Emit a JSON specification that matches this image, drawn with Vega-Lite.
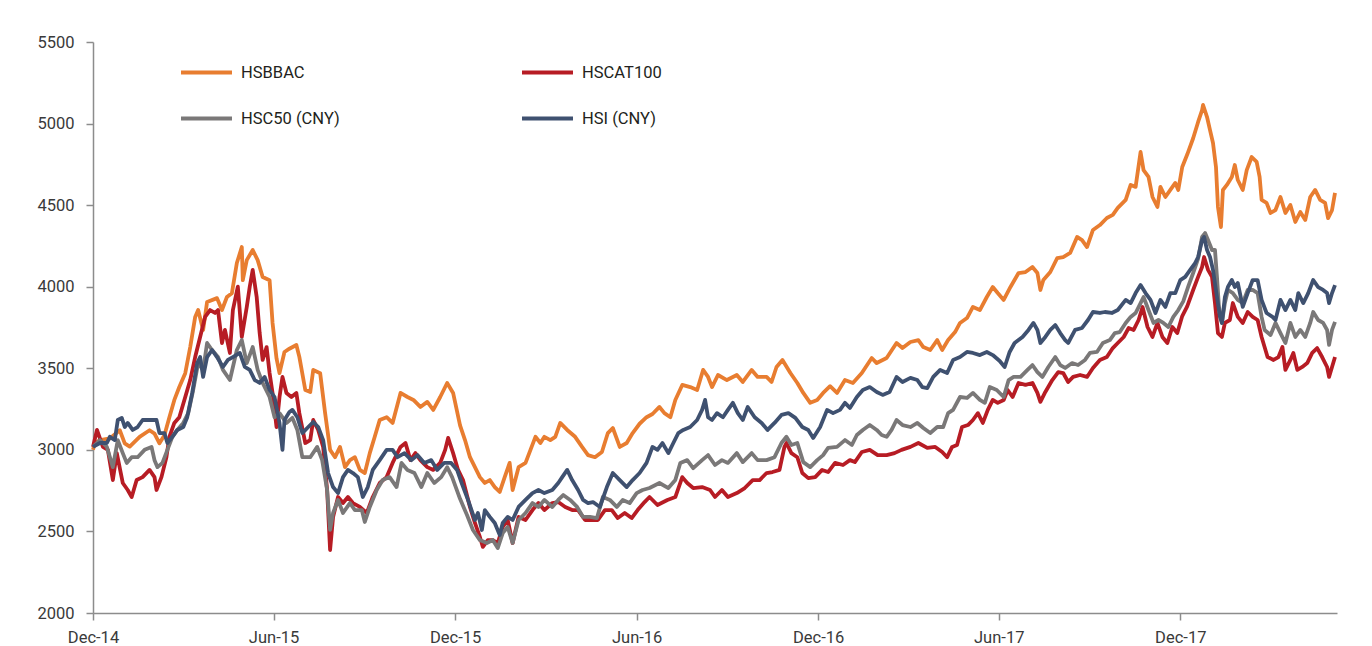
{
"$schema":"https://vega.github.io/schema/vega-lite/v6.json",
"width":1244,"height":571,
"autosize":{"type":"none"},
"padding":{"left":93,"top":42,"right":35,"bottom":33},
"background":"#ffffff",
"config":{"view":{"stroke":null},"font":"Roboto",
"axis":{"domainColor":"#8c8c8c","tickColor":"#8c8c8c","domainWidth":1.5,"tickWidth":1.5,"tickSize":7,"labelFontSize":16.5,"labelColor":"#3a3a3a","labelFont":"Roboto","grid":false,"title":null},
"legend":{"orient":"none","legendX":86,"legendY":3,"columns":2,"direction":"horizontal","symbolType":"stroke","symbolSize":2600,"symbolStrokeWidth":4,"labelFontSize":16.5,"labelColor":"#231f20","labelFont":"Roboto","labelOffset":7,"columnPadding":174,"rowPadding":10,"padding":0,"title":null,"labelLimit":300}},
"datasets":{
"a":[{"date":"2014-12-01","value":3000},{"date":"2014-12-03","value":3043},{"date":"2014-12-08","value":3060},{"date":"2014-12-18","value":3070},{"date":"2014-12-28","value":3120},{"date":"2015-01-02","value":3040},{"date":"2015-01-07","value":3020},{"date":"2015-01-17","value":3080},{"date":"2015-01-27","value":3120},{"date":"2015-02-01","value":3100},{"date":"2015-02-06","value":3040},{"date":"2015-02-11","value":3090},{"date":"2015-02-16","value":3200},{"date":"2015-02-21","value":3306},{"date":"2015-02-26","value":3385},{"date":"2015-03-04","value":3470},{"date":"2015-03-09","value":3630},{"date":"2015-03-14","value":3815},{"date":"2015-03-17","value":3857},{"date":"2015-03-22","value":3735},{"date":"2015-03-26","value":3906},{"date":"2015-04-05","value":3930},{"date":"2015-04-10","value":3857},{"date":"2015-04-15","value":3937},{"date":"2015-04-20","value":3960},{"date":"2015-04-25","value":4145},{"date":"2015-04-30","value":4243},{"date":"2015-05-01","value":4040},{"date":"2015-05-05","value":4163},{"date":"2015-05-11","value":4225},{"date":"2015-05-16","value":4163},{"date":"2015-05-21","value":4060},{"date":"2015-05-28","value":4040},{"date":"2015-05-31","value":3778},{"date":"2015-06-04","value":3560},{"date":"2015-06-07","value":3470},{"date":"2015-06-12","value":3600},{"date":"2015-06-17","value":3620},{"date":"2015-06-24","value":3643},{"date":"2015-06-27","value":3570},{"date":"2015-07-03","value":3367},{"date":"2015-07-08","value":3355},{"date":"2015-07-11","value":3490},{"date":"2015-07-18","value":3470},{"date":"2015-07-23","value":3225},{"date":"2015-07-28","value":3000},{"date":"2015-08-02","value":2955},{"date":"2015-08-07","value":3018},{"date":"2015-08-12","value":2894},{"date":"2015-08-17","value":2937},{"date":"2015-08-22","value":2955},{"date":"2015-08-27","value":2877},{"date":"2015-09-01","value":2858},{"date":"2015-09-06","value":2980},{"date":"2015-09-11","value":3080},{"date":"2015-09-16","value":3183},{"date":"2015-09-23","value":3200},{"date":"2015-09-29","value":3165},{"date":"2015-10-07","value":3349},{"date":"2015-10-14","value":3324},{"date":"2015-10-20","value":3306},{"date":"2015-10-27","value":3263},{"date":"2015-11-03","value":3294},{"date":"2015-11-09","value":3245},{"date":"2015-11-16","value":3324},{"date":"2015-11-23","value":3410},{"date":"2015-11-29","value":3349},{"date":"2015-12-06","value":3150},{"date":"2015-12-11","value":3060},{"date":"2015-12-16","value":2955},{"date":"2015-12-21","value":2894},{"date":"2015-12-26","value":2833},{"date":"2015-12-31","value":2797},{"date":"2016-01-05","value":2815},{"date":"2016-01-10","value":2772},{"date":"2016-01-15","value":2742},{"date":"2016-01-20","value":2833},{"date":"2016-01-25","value":2920},{"date":"2016-01-28","value":2754},{"date":"2016-02-03","value":2894},{"date":"2016-02-10","value":2920},{"date":"2016-02-15","value":3000},{"date":"2016-02-20","value":3080},{"date":"2016-02-25","value":3042},{"date":"2016-02-29","value":3080},{"date":"2016-03-06","value":3060},{"date":"2016-03-11","value":3080},{"date":"2016-03-16","value":3165},{"date":"2016-03-23","value":3122},{"date":"2016-03-31","value":3080},{"date":"2016-04-07","value":3018},{"date":"2016-04-13","value":2968},{"date":"2016-04-20","value":2955},{"date":"2016-04-27","value":2987},{"date":"2016-05-03","value":3103},{"date":"2016-05-08","value":3134},{"date":"2016-05-15","value":3018},{"date":"2016-05-22","value":3042},{"date":"2016-05-28","value":3103},{"date":"2016-06-04","value":3160},{"date":"2016-06-11","value":3200},{"date":"2016-06-17","value":3220},{"date":"2016-06-24","value":3263},{"date":"2016-06-29","value":3225},{"date":"2016-07-05","value":3200},{"date":"2016-07-10","value":3306},{"date":"2016-07-17","value":3398},{"date":"2016-07-25","value":3385},{"date":"2016-08-01","value":3367},{"date":"2016-08-07","value":3490},{"date":"2016-08-12","value":3447},{"date":"2016-08-16","value":3385},{"date":"2016-08-22","value":3459},{"date":"2016-08-31","value":3428},{"date":"2016-09-10","value":3459},{"date":"2016-09-16","value":3416},{"date":"2016-09-25","value":3490},{"date":"2016-10-01","value":3447},{"date":"2016-10-10","value":3447},{"date":"2016-10-15","value":3416},{"date":"2016-10-20","value":3508},{"date":"2016-10-26","value":3551},{"date":"2016-11-03","value":3471},{"date":"2016-11-10","value":3410},{"date":"2016-11-16","value":3349},{"date":"2016-11-23","value":3288},{"date":"2016-11-30","value":3306},{"date":"2016-12-06","value":3349},{"date":"2016-12-13","value":3390},{"date":"2016-12-20","value":3349},{"date":"2016-12-28","value":3428},{"date":"2017-01-05","value":3410},{"date":"2017-01-14","value":3471},{"date":"2017-01-24","value":3563},{"date":"2017-01-29","value":3532},{"date":"2017-02-08","value":3563},{"date":"2017-02-18","value":3655},{"date":"2017-02-24","value":3624},{"date":"2017-03-04","value":3661},{"date":"2017-03-12","value":3673},{"date":"2017-03-17","value":3630},{"date":"2017-03-24","value":3612},{"date":"2017-03-31","value":3673},{"date":"2017-04-05","value":3612},{"date":"2017-04-11","value":3673},{"date":"2017-04-18","value":3722},{"date":"2017-04-23","value":3778},{"date":"2017-04-30","value":3808},{"date":"2017-05-06","value":3876},{"date":"2017-05-13","value":3857},{"date":"2017-05-20","value":3937},{"date":"2017-05-26","value":3998},{"date":"2017-05-31","value":3961},{"date":"2017-06-06","value":3919},{"date":"2017-06-13","value":4000},{"date":"2017-06-21","value":4084},{"date":"2017-06-28","value":4090},{"date":"2017-07-05","value":4121},{"date":"2017-07-10","value":4084},{"date":"2017-07-13","value":3980},{"date":"2017-07-16","value":4041},{"date":"2017-07-23","value":4090},{"date":"2017-07-30","value":4176},{"date":"2017-08-05","value":4182},{"date":"2017-08-12","value":4207},{"date":"2017-08-19","value":4305},{"date":"2017-08-24","value":4286},{"date":"2017-08-29","value":4243},{"date":"2017-09-04","value":4348},{"date":"2017-09-11","value":4378},{"date":"2017-09-18","value":4421},{"date":"2017-09-24","value":4440},{"date":"2017-09-29","value":4483},{"date":"2017-10-07","value":4532},{"date":"2017-10-12","value":4624},{"date":"2017-10-17","value":4612},{"date":"2017-10-22","value":4826},{"date":"2017-10-25","value":4715},{"date":"2017-10-30","value":4673},{"date":"2017-11-03","value":4550},{"date":"2017-11-08","value":4489},{"date":"2017-11-11","value":4612},{"date":"2017-11-16","value":4550},{"date":"2017-11-21","value":4593},{"date":"2017-11-26","value":4636},{"date":"2017-11-29","value":4593},{"date":"2017-12-03","value":4734},{"date":"2017-12-08","value":4810},{"date":"2017-12-14","value":4910},{"date":"2017-12-19","value":5010},{"date":"2017-12-23","value":5083},{"date":"2017-12-24","value":5114},{"date":"2017-12-28","value":5040},{"date":"2017-12-31","value":4960},{"date":"2018-01-03","value":4881},{"date":"2018-01-06","value":4734},{"date":"2018-01-08","value":4489},{"date":"2018-01-11","value":4366},{"date":"2018-01-13","value":4593},{"date":"2018-01-17","value":4624},{"date":"2018-01-22","value":4673},{"date":"2018-01-25","value":4746},{"date":"2018-01-28","value":4654},{"date":"2018-02-02","value":4593},{"date":"2018-02-06","value":4715},{"date":"2018-02-11","value":4795},{"date":"2018-02-16","value":4765},{"date":"2018-02-19","value":4673},{"date":"2018-02-21","value":4532},{"date":"2018-02-26","value":4514},{"date":"2018-03-02","value":4452},{"date":"2018-03-07","value":4470},{"date":"2018-03-12","value":4550},{"date":"2018-03-17","value":4452},{"date":"2018-03-22","value":4501},{"date":"2018-03-27","value":4397},{"date":"2018-04-01","value":4458},{"date":"2018-04-06","value":4409},{"date":"2018-04-11","value":4550},{"date":"2018-04-16","value":4593},{"date":"2018-04-21","value":4532},{"date":"2018-04-26","value":4514},{"date":"2018-04-29","value":4421},{"date":"2018-05-03","value":4470},{"date":"2018-05-06","value":4575}],
"b":[{"date":"2014-12-01","value":3018},{"date":"2014-12-05","value":3122},{"date":"2014-12-11","value":3018},{"date":"2014-12-16","value":3000},{"date":"2014-12-21","value":2815},{"date":"2014-12-25","value":2980},{"date":"2014-12-31","value":2797},{"date":"2015-01-05","value":2754},{"date":"2015-01-09","value":2711},{"date":"2015-01-14","value":2815},{"date":"2015-01-20","value":2833},{"date":"2015-01-27","value":2877},{"date":"2015-02-01","value":2833},{"date":"2015-02-03","value":2754},{"date":"2015-02-08","value":2833},{"date":"2015-02-13","value":2955},{"date":"2015-02-16","value":3080},{"date":"2015-02-21","value":3165},{"date":"2015-02-26","value":3200},{"date":"2015-03-04","value":3324},{"date":"2015-03-09","value":3428},{"date":"2015-03-14","value":3569},{"date":"2015-03-19","value":3692},{"date":"2015-03-24","value":3815},{"date":"2015-03-29","value":3857},{"date":"2015-04-03","value":3839},{"date":"2015-04-06","value":3857},{"date":"2015-04-10","value":3655},{"date":"2015-04-13","value":3735},{"date":"2015-04-18","value":3594},{"date":"2015-04-21","value":3857},{"date":"2015-04-26","value":4000},{"date":"2015-04-30","value":3692},{"date":"2015-05-05","value":3876},{"date":"2015-05-08","value":4000},{"date":"2015-05-11","value":4103},{"date":"2015-05-15","value":3937},{"date":"2015-05-18","value":3716},{"date":"2015-05-21","value":3551},{"date":"2015-05-25","value":3630},{"date":"2015-05-28","value":3471},{"date":"2015-05-31","value":3349},{"date":"2015-06-04","value":3140},{"date":"2015-06-07","value":3324},{"date":"2015-06-10","value":3447},{"date":"2015-06-14","value":3349},{"date":"2015-06-19","value":3324},{"date":"2015-06-24","value":3349},{"date":"2015-06-27","value":3225},{"date":"2015-07-03","value":3042},{"date":"2015-07-08","value":3060},{"date":"2015-07-11","value":3183},{"date":"2015-07-16","value":3122},{"date":"2015-07-21","value":3018},{"date":"2015-07-25","value":2754},{"date":"2015-07-28","value":2386},{"date":"2015-07-31","value":2588},{"date":"2015-08-05","value":2711},{"date":"2015-08-10","value":2674},{"date":"2015-08-15","value":2711},{"date":"2015-08-20","value":2674},{"date":"2015-08-27","value":2650},{"date":"2015-09-03","value":2613},{"date":"2015-09-09","value":2711},{"date":"2015-09-16","value":2797},{"date":"2015-09-23","value":2833},{"date":"2015-09-29","value":2920},{"date":"2015-10-07","value":3018},{"date":"2015-10-12","value":3042},{"date":"2015-10-17","value":2937},{"date":"2015-10-22","value":2980},{"date":"2015-10-27","value":2937},{"date":"2015-11-03","value":2894},{"date":"2015-11-09","value":2877},{"date":"2015-11-16","value":2920},{"date":"2015-11-21","value":3000},{"date":"2015-11-24","value":3073},{"date":"2015-11-29","value":2980},{"date":"2015-12-04","value":2877},{"date":"2015-12-09","value":2815},{"date":"2015-12-16","value":2650},{"date":"2015-12-21","value":2552},{"date":"2015-12-26","value":2466},{"date":"2015-12-29","value":2405},{"date":"2016-01-03","value":2447},{"date":"2016-01-08","value":2447},{"date":"2016-01-13","value":2429},{"date":"2016-01-18","value":2527},{"date":"2016-01-23","value":2570},{"date":"2016-01-28","value":2429},{"date":"2016-02-03","value":2589},{"date":"2016-02-10","value":2570},{"date":"2016-02-17","value":2631},{"date":"2016-02-23","value":2674},{"date":"2016-02-29","value":2631},{"date":"2016-03-08","value":2674},{"date":"2016-03-14","value":2680},{"date":"2016-03-21","value":2650},{"date":"2016-03-28","value":2631},{"date":"2016-04-03","value":2631},{"date":"2016-04-10","value":2570},{"date":"2016-04-17","value":2570},{"date":"2016-04-23","value":2570},{"date":"2016-04-30","value":2631},{"date":"2016-05-07","value":2631},{"date":"2016-05-13","value":2582},{"date":"2016-05-20","value":2613},{"date":"2016-05-27","value":2582},{"date":"2016-06-02","value":2631},{"date":"2016-06-09","value":2680},{"date":"2016-06-14","value":2711},{"date":"2016-06-22","value":2662},{"date":"2016-07-02","value":2693},{"date":"2016-07-10","value":2711},{"date":"2016-07-17","value":2833},{"date":"2016-07-22","value":2797},{"date":"2016-07-28","value":2766},{"date":"2016-08-06","value":2772},{"date":"2016-08-14","value":2754},{"date":"2016-08-19","value":2711},{"date":"2016-08-26","value":2754},{"date":"2016-09-01","value":2711},{"date":"2016-09-10","value":2735},{"date":"2016-09-18","value":2766},{"date":"2016-09-26","value":2815},{"date":"2016-10-03","value":2815},{"date":"2016-10-10","value":2858},{"date":"2016-10-16","value":2864},{"date":"2016-10-23","value":2877},{"date":"2016-10-28","value":3018},{"date":"2016-10-30","value":3042},{"date":"2016-11-04","value":2980},{"date":"2016-11-10","value":2955},{"date":"2016-11-15","value":2858},{"date":"2016-11-21","value":2827},{"date":"2016-11-28","value":2833},{"date":"2016-12-05","value":2877},{"date":"2016-12-11","value":2864},{"date":"2016-12-18","value":2920},{"date":"2016-12-26","value":2907},{"date":"2017-01-02","value":2937},{"date":"2017-01-07","value":2925},{"date":"2017-01-14","value":2987},{"date":"2017-01-22","value":3000},{"date":"2017-01-30","value":2968},{"date":"2017-02-08","value":2968},{"date":"2017-02-16","value":2980},{"date":"2017-02-23","value":3000},{"date":"2017-03-04","value":3018},{"date":"2017-03-12","value":3042},{"date":"2017-03-21","value":3012},{"date":"2017-03-29","value":3018},{"date":"2017-04-05","value":2987},{"date":"2017-04-10","value":2955},{"date":"2017-04-15","value":3018},{"date":"2017-04-20","value":3030},{"date":"2017-04-25","value":3140},{"date":"2017-05-01","value":3152},{"date":"2017-05-06","value":3183},{"date":"2017-05-11","value":3225},{"date":"2017-05-16","value":3165},{"date":"2017-05-21","value":3245},{"date":"2017-05-26","value":3306},{"date":"2017-05-31","value":3288},{"date":"2017-06-06","value":3306},{"date":"2017-06-10","value":3367},{"date":"2017-06-15","value":3324},{"date":"2017-06-21","value":3410},{"date":"2017-06-28","value":3398},{"date":"2017-07-05","value":3410},{"date":"2017-07-10","value":3349},{"date":"2017-07-13","value":3294},{"date":"2017-07-18","value":3355},{"date":"2017-07-25","value":3428},{"date":"2017-07-31","value":3477},{"date":"2017-08-05","value":3471},{"date":"2017-08-10","value":3416},{"date":"2017-08-15","value":3447},{"date":"2017-08-22","value":3459},{"date":"2017-08-29","value":3447},{"date":"2017-09-04","value":3502},{"date":"2017-09-11","value":3551},{"date":"2017-09-18","value":3569},{"date":"2017-09-24","value":3624},{"date":"2017-09-29","value":3655},{"date":"2017-10-05","value":3692},{"date":"2017-10-10","value":3747},{"date":"2017-10-15","value":3735},{"date":"2017-10-20","value":3796},{"date":"2017-10-24","value":3876},{"date":"2017-10-29","value":3753},{"date":"2017-11-03","value":3692},{"date":"2017-11-08","value":3778},{"date":"2017-11-13","value":3692},{"date":"2017-11-18","value":3655},{"date":"2017-11-23","value":3753},{"date":"2017-11-28","value":3716},{"date":"2017-12-03","value":3820},{"date":"2017-12-08","value":3880},{"date":"2017-12-14","value":3980},{"date":"2017-12-19","value":4060},{"date":"2017-12-23","value":4121},{"date":"2017-12-25","value":4182},{"date":"2017-12-29","value":4103},{"date":"2018-01-02","value":4060},{"date":"2018-01-05","value":3900},{"date":"2018-01-08","value":3716},{"date":"2018-01-12","value":3692},{"date":"2018-01-15","value":3778},{"date":"2018-01-20","value":3796},{"date":"2018-01-23","value":3900},{"date":"2018-01-28","value":3815},{"date":"2018-02-02","value":3778},{"date":"2018-02-07","value":3845},{"date":"2018-02-12","value":3815},{"date":"2018-02-17","value":3796},{"date":"2018-02-21","value":3692},{"date":"2018-02-24","value":3630},{"date":"2018-02-27","value":3569},{"date":"2018-03-05","value":3551},{"date":"2018-03-10","value":3569},{"date":"2018-03-14","value":3630},{"date":"2018-03-17","value":3490},{"date":"2018-03-22","value":3551},{"date":"2018-03-25","value":3594},{"date":"2018-03-29","value":3490},{"date":"2018-04-03","value":3508},{"date":"2018-04-08","value":3532},{"date":"2018-04-13","value":3594},{"date":"2018-04-18","value":3624},{"date":"2018-04-23","value":3569},{"date":"2018-04-28","value":3508},{"date":"2018-04-30","value":3447},{"date":"2018-05-03","value":3508},{"date":"2018-05-06","value":3569}],
"c":[{"date":"2014-12-01","value":3018},{"date":"2014-12-08","value":3060},{"date":"2014-12-15","value":3018},{"date":"2014-12-21","value":2894},{"date":"2014-12-26","value":3060},{"date":"2014-12-31","value":2980},{"date":"2015-01-04","value":2920},{"date":"2015-01-09","value":2955},{"date":"2015-01-15","value":2955},{"date":"2015-01-22","value":3000},{"date":"2015-01-29","value":3018},{"date":"2015-02-01","value":2937},{"date":"2015-02-04","value":2894},{"date":"2015-02-09","value":2920},{"date":"2015-02-14","value":3000},{"date":"2015-02-19","value":3080},{"date":"2015-02-24","value":3122},{"date":"2015-03-02","value":3165},{"date":"2015-03-07","value":3225},{"date":"2015-03-12","value":3367},{"date":"2015-03-17","value":3532},{"date":"2015-03-22","value":3490},{"date":"2015-03-26","value":3655},{"date":"2015-03-31","value":3612},{"date":"2015-04-06","value":3569},{"date":"2015-04-11","value":3490},{"date":"2015-04-18","value":3428},{"date":"2015-04-25","value":3612},{"date":"2015-04-30","value":3673},{"date":"2015-05-05","value":3532},{"date":"2015-05-11","value":3630},{"date":"2015-05-16","value":3490},{"date":"2015-05-21","value":3410},{"date":"2015-05-28","value":3324},{"date":"2015-06-02","value":3200},{"date":"2015-06-07","value":3225},{"date":"2015-06-14","value":3165},{"date":"2015-06-20","value":3196},{"date":"2015-06-25","value":3122},{"date":"2015-06-30","value":2955},{"date":"2015-07-08","value":2955},{"date":"2015-07-15","value":3018},{"date":"2015-07-20","value":2937},{"date":"2015-07-25","value":2754},{"date":"2015-07-28","value":2509},{"date":"2015-07-31","value":2613},{"date":"2015-08-05","value":2693},{"date":"2015-08-10","value":2613},{"date":"2015-08-17","value":2674},{"date":"2015-08-22","value":2631},{"date":"2015-08-29","value":2631},{"date":"2015-09-01","value":2558},{"date":"2015-09-06","value":2650},{"date":"2015-09-13","value":2754},{"date":"2015-09-19","value":2815},{"date":"2015-09-26","value":2833},{"date":"2015-10-03","value":2772},{"date":"2015-10-08","value":2920},{"date":"2015-10-14","value":2877},{"date":"2015-10-21","value":2858},{"date":"2015-10-28","value":2772},{"date":"2015-11-03","value":2858},{"date":"2015-11-10","value":2797},{"date":"2015-11-17","value":2833},{"date":"2015-11-23","value":2894},{"date":"2015-11-28","value":2833},{"date":"2015-12-06","value":2700},{"date":"2015-12-13","value":2600},{"date":"2015-12-19","value":2509},{"date":"2015-12-26","value":2447},{"date":"2016-01-02","value":2429},{"date":"2016-01-08","value":2447},{"date":"2016-01-13","value":2398},{"date":"2016-01-18","value":2490},{"date":"2016-01-23","value":2527},{"date":"2016-01-28","value":2429},{"date":"2016-02-03","value":2570},{"date":"2016-02-10","value":2613},{"date":"2016-02-17","value":2674},{"date":"2016-02-23","value":2650},{"date":"2016-02-29","value":2693},{"date":"2016-03-08","value":2650},{"date":"2016-03-14","value":2693},{"date":"2016-03-19","value":2723},{"date":"2016-03-26","value":2693},{"date":"2016-04-02","value":2650},{"date":"2016-04-08","value":2589},{"date":"2016-04-15","value":2589},{"date":"2016-04-22","value":2582},{"date":"2016-04-28","value":2711},{"date":"2016-05-05","value":2693},{"date":"2016-05-12","value":2650},{"date":"2016-05-18","value":2693},{"date":"2016-05-25","value":2674},{"date":"2016-06-01","value":2735},{"date":"2016-06-07","value":2754},{"date":"2016-06-14","value":2766},{"date":"2016-06-24","value":2797},{"date":"2016-07-03","value":2766},{"date":"2016-07-10","value":2815},{"date":"2016-07-15","value":2920},{"date":"2016-07-22","value":2937},{"date":"2016-07-28","value":2888},{"date":"2016-08-06","value":2937},{"date":"2016-08-12","value":2968},{"date":"2016-08-19","value":2907},{"date":"2016-08-26","value":2937},{"date":"2016-09-01","value":2920},{"date":"2016-09-10","value":2980},{"date":"2016-09-16","value":2925},{"date":"2016-09-25","value":2980},{"date":"2016-10-01","value":2937},{"date":"2016-10-10","value":2937},{"date":"2016-10-18","value":2955},{"date":"2016-10-25","value":3042},{"date":"2016-10-30","value":3080},{"date":"2016-11-04","value":3030},{"date":"2016-11-10","value":3042},{"date":"2016-11-16","value":2925},{"date":"2016-11-23","value":2894},{"date":"2016-11-30","value":2937},{"date":"2016-12-06","value":2968},{"date":"2016-12-11","value":3012},{"date":"2016-12-20","value":3018},{"date":"2016-12-28","value":3060},{"date":"2017-01-04","value":3030},{"date":"2017-01-09","value":3091},{"date":"2017-01-15","value":3122},{"date":"2017-01-22","value":3152},{"date":"2017-01-29","value":3122},{"date":"2017-02-03","value":3091},{"date":"2017-02-08","value":3080},{"date":"2017-02-13","value":3122},{"date":"2017-02-18","value":3183},{"date":"2017-02-24","value":3152},{"date":"2017-03-04","value":3140},{"date":"2017-03-11","value":3165},{"date":"2017-03-17","value":3134},{"date":"2017-03-24","value":3103},{"date":"2017-03-31","value":3140},{"date":"2017-04-06","value":3140},{"date":"2017-04-11","value":3225},{"date":"2017-04-16","value":3245},{"date":"2017-04-23","value":3324},{"date":"2017-04-30","value":3318},{"date":"2017-05-06","value":3349},{"date":"2017-05-13","value":3306},{"date":"2017-05-18","value":3288},{"date":"2017-05-23","value":3385},{"date":"2017-05-30","value":3367},{"date":"2017-06-06","value":3324},{"date":"2017-06-11","value":3428},{"date":"2017-06-16","value":3447},{"date":"2017-06-23","value":3447},{"date":"2017-06-30","value":3490},{"date":"2017-07-05","value":3520},{"date":"2017-07-10","value":3477},{"date":"2017-07-15","value":3447},{"date":"2017-07-21","value":3508},{"date":"2017-07-28","value":3569},{"date":"2017-08-02","value":3520},{"date":"2017-08-07","value":3502},{"date":"2017-08-14","value":3532},{"date":"2017-08-20","value":3520},{"date":"2017-08-27","value":3551},{"date":"2017-09-01","value":3594},{"date":"2017-09-08","value":3600},{"date":"2017-09-14","value":3655},{"date":"2017-09-21","value":3673},{"date":"2017-09-26","value":3716},{"date":"2017-10-01","value":3722},{"date":"2017-10-07","value":3778},{"date":"2017-10-12","value":3815},{"date":"2017-10-17","value":3839},{"date":"2017-10-22","value":3900},{"date":"2017-10-25","value":3937},{"date":"2017-10-30","value":3857},{"date":"2017-11-04","value":3778},{"date":"2017-11-09","value":3796},{"date":"2017-11-14","value":3778},{"date":"2017-11-19","value":3753},{"date":"2017-11-24","value":3815},{"date":"2017-11-29","value":3857},{"date":"2017-12-04","value":3910},{"date":"2017-12-09","value":4000},{"date":"2017-12-14","value":4084},{"date":"2017-12-19","value":4172},{"date":"2017-12-23","value":4305},{"date":"2017-12-26","value":4329},{"date":"2017-12-29","value":4286},{"date":"2018-01-02","value":4225},{"date":"2018-01-05","value":4225},{"date":"2018-01-07","value":4060},{"date":"2018-01-09","value":3876},{"date":"2018-01-12","value":3778},{"date":"2018-01-15","value":3900},{"date":"2018-01-18","value":3980},{"date":"2018-01-23","value":3961},{"date":"2018-01-28","value":3919},{"date":"2018-02-02","value":3900},{"date":"2018-02-07","value":3980},{"date":"2018-02-12","value":3980},{"date":"2018-02-17","value":3961},{"date":"2018-02-21","value":3815},{"date":"2018-02-24","value":3735},{"date":"2018-03-02","value":3704},{"date":"2018-03-07","value":3778},{"date":"2018-03-12","value":3716},{"date":"2018-03-17","value":3655},{"date":"2018-03-22","value":3778},{"date":"2018-03-27","value":3692},{"date":"2018-04-01","value":3735},{"date":"2018-04-06","value":3692},{"date":"2018-04-11","value":3778},{"date":"2018-04-14","value":3845},{"date":"2018-04-19","value":3796},{"date":"2018-04-24","value":3778},{"date":"2018-04-28","value":3735},{"date":"2018-04-30","value":3643},{"date":"2018-05-03","value":3735},{"date":"2018-05-06","value":3784}],
"d":[{"date":"2014-12-01","value":3018},{"date":"2014-12-08","value":3042},{"date":"2014-12-15","value":3042},{"date":"2014-12-18","value":3080},{"date":"2014-12-23","value":3060},{"date":"2014-12-26","value":3183},{"date":"2014-12-30","value":3196},{"date":"2015-01-02","value":3140},{"date":"2015-01-05","value":3165},{"date":"2015-01-10","value":3122},{"date":"2015-01-15","value":3140},{"date":"2015-01-20","value":3183},{"date":"2015-01-27","value":3183},{"date":"2015-02-03","value":3183},{"date":"2015-02-06","value":3103},{"date":"2015-02-11","value":3103},{"date":"2015-02-14","value":3042},{"date":"2015-02-19","value":3080},{"date":"2015-02-24","value":3122},{"date":"2015-03-02","value":3140},{"date":"2015-03-06","value":3200},{"date":"2015-03-11","value":3349},{"date":"2015-03-16","value":3532},{"date":"2015-03-19","value":3569},{"date":"2015-03-22","value":3447},{"date":"2015-03-26","value":3569},{"date":"2015-03-31","value":3612},{"date":"2015-04-05","value":3569},{"date":"2015-04-11","value":3508},{"date":"2015-04-16","value":3551},{"date":"2015-04-21","value":3569},{"date":"2015-04-28","value":3594},{"date":"2015-05-03","value":3508},{"date":"2015-05-08","value":3490},{"date":"2015-05-13","value":3428},{"date":"2015-05-18","value":3410},{"date":"2015-05-23","value":3447},{"date":"2015-05-28","value":3367},{"date":"2015-06-02","value":3324},{"date":"2015-06-07","value":3165},{"date":"2015-06-10","value":3000},{"date":"2015-06-12","value":3183},{"date":"2015-06-17","value":3232},{"date":"2015-06-20","value":3245},{"date":"2015-06-25","value":3200},{"date":"2015-06-30","value":3103},{"date":"2015-07-06","value":3140},{"date":"2015-07-11","value":3171},{"date":"2015-07-16","value":3140},{"date":"2015-07-21","value":3060},{"date":"2015-07-26","value":2858},{"date":"2015-07-31","value":2772},{"date":"2015-08-05","value":2735},{"date":"2015-08-10","value":2833},{"date":"2015-08-15","value":2877},{"date":"2015-08-20","value":2858},{"date":"2015-08-25","value":2833},{"date":"2015-08-30","value":2711},{"date":"2015-09-04","value":2772},{"date":"2015-09-09","value":2877},{"date":"2015-09-16","value":2937},{"date":"2015-09-23","value":3000},{"date":"2015-09-29","value":3000},{"date":"2015-10-04","value":2955},{"date":"2015-10-11","value":2980},{"date":"2015-10-18","value":2937},{"date":"2015-10-24","value":2968},{"date":"2015-10-31","value":2920},{"date":"2015-11-07","value":2937},{"date":"2015-11-13","value":2877},{"date":"2015-11-20","value":2920},{"date":"2015-11-27","value":2920},{"date":"2015-12-03","value":2877},{"date":"2015-12-08","value":2790},{"date":"2015-12-14","value":2693},{"date":"2015-12-21","value":2570},{"date":"2015-12-24","value":2613},{"date":"2015-12-28","value":2509},{"date":"2015-12-31","value":2631},{"date":"2016-01-05","value":2589},{"date":"2016-01-10","value":2552},{"date":"2016-01-15","value":2478},{"date":"2016-01-18","value":2552},{"date":"2016-01-23","value":2589},{"date":"2016-01-28","value":2570},{"date":"2016-02-03","value":2650},{"date":"2016-02-10","value":2693},{"date":"2016-02-17","value":2735},{"date":"2016-02-23","value":2754},{"date":"2016-02-29","value":2735},{"date":"2016-03-08","value":2754},{"date":"2016-03-14","value":2797},{"date":"2016-03-18","value":2833},{"date":"2016-03-23","value":2877},{"date":"2016-03-28","value":2815},{"date":"2016-04-03","value":2754},{"date":"2016-04-08","value":2693},{"date":"2016-04-13","value":2674},{"date":"2016-04-18","value":2680},{"date":"2016-04-25","value":2650},{"date":"2016-05-02","value":2772},{"date":"2016-05-08","value":2858},{"date":"2016-05-15","value":2815},{"date":"2016-05-22","value":2772},{"date":"2016-05-28","value":2815},{"date":"2016-06-04","value":2858},{"date":"2016-06-11","value":2920},{"date":"2016-06-17","value":3018},{"date":"2016-06-22","value":3000},{"date":"2016-06-27","value":3042},{"date":"2016-07-03","value":2980},{"date":"2016-07-08","value":3042},{"date":"2016-07-13","value":3103},{"date":"2016-07-18","value":3122},{"date":"2016-07-25","value":3140},{"date":"2016-08-01","value":3183},{"date":"2016-08-06","value":3245},{"date":"2016-08-09","value":3306},{"date":"2016-08-12","value":3200},{"date":"2016-08-16","value":3183},{"date":"2016-08-21","value":3225},{"date":"2016-08-27","value":3200},{"date":"2016-09-01","value":3245},{"date":"2016-09-06","value":3288},{"date":"2016-09-11","value":3225},{"date":"2016-09-16","value":3183},{"date":"2016-09-21","value":3263},{"date":"2016-09-28","value":3200},{"date":"2016-10-05","value":3165},{"date":"2016-10-11","value":3122},{"date":"2016-10-18","value":3165},{"date":"2016-10-25","value":3214},{"date":"2016-11-01","value":3225},{"date":"2016-11-08","value":3196},{"date":"2016-11-15","value":3140},{"date":"2016-11-21","value":3122},{"date":"2016-11-26","value":3073},{"date":"2016-12-03","value":3140},{"date":"2016-12-10","value":3245},{"date":"2016-12-16","value":3225},{"date":"2016-12-23","value":3245},{"date":"2016-12-28","value":3288},{"date":"2017-01-02","value":3257},{"date":"2017-01-09","value":3324},{"date":"2017-01-15","value":3367},{"date":"2017-01-22","value":3385},{"date":"2017-01-29","value":3355},{"date":"2017-02-04","value":3337},{"date":"2017-02-11","value":3355},{"date":"2017-02-18","value":3447},{"date":"2017-02-24","value":3416},{"date":"2017-03-04","value":3441},{"date":"2017-03-11","value":3428},{"date":"2017-03-16","value":3385},{"date":"2017-03-21","value":3379},{"date":"2017-03-27","value":3447},{"date":"2017-04-03","value":3490},{"date":"2017-04-10","value":3471},{"date":"2017-04-16","value":3551},{"date":"2017-04-23","value":3569},{"date":"2017-04-30","value":3600},{"date":"2017-05-06","value":3594},{"date":"2017-05-13","value":3581},{"date":"2017-05-20","value":3600},{"date":"2017-05-26","value":3581},{"date":"2017-06-02","value":3545},{"date":"2017-06-07","value":3508},{"date":"2017-06-12","value":3600},{"date":"2017-06-17","value":3655},{"date":"2017-06-25","value":3692},{"date":"2017-07-01","value":3735},{"date":"2017-07-06","value":3778},{"date":"2017-07-10","value":3735},{"date":"2017-07-13","value":3655},{"date":"2017-07-18","value":3692},{"date":"2017-07-23","value":3735},{"date":"2017-07-28","value":3765},{"date":"2017-08-02","value":3716},{"date":"2017-08-07","value":3673},{"date":"2017-08-10","value":3655},{"date":"2017-08-17","value":3735},{"date":"2017-08-24","value":3747},{"date":"2017-08-30","value":3796},{"date":"2017-09-04","value":3845},{"date":"2017-09-11","value":3839},{"date":"2017-09-16","value":3845},{"date":"2017-09-23","value":3839},{"date":"2017-09-29","value":3857},{"date":"2017-10-07","value":3919},{"date":"2017-10-12","value":3900},{"date":"2017-10-17","value":3961},{"date":"2017-10-22","value":4010},{"date":"2017-10-27","value":3961},{"date":"2017-11-01","value":3919},{"date":"2017-11-06","value":3839},{"date":"2017-11-11","value":3919},{"date":"2017-11-16","value":3876},{"date":"2017-11-21","value":3961},{"date":"2017-11-26","value":3961},{"date":"2017-12-01","value":4040},{"date":"2017-12-06","value":4060},{"date":"2017-12-11","value":4103},{"date":"2017-12-16","value":4145},{"date":"2017-12-19","value":4182},{"date":"2017-12-23","value":4286},{"date":"2017-12-25","value":4305},{"date":"2017-12-28","value":4225},{"date":"2017-12-31","value":4182},{"date":"2018-01-03","value":4103},{"date":"2018-01-07","value":3937},{"date":"2018-01-10","value":3815},{"date":"2018-01-12","value":3778},{"date":"2018-01-15","value":3937},{"date":"2018-01-18","value":3998},{"date":"2018-01-22","value":4041},{"date":"2018-01-25","value":3998},{"date":"2018-01-28","value":4023},{"date":"2018-02-02","value":3876},{"date":"2018-02-07","value":3961},{"date":"2018-02-12","value":4041},{"date":"2018-02-17","value":4041},{"date":"2018-02-21","value":3919},{"date":"2018-02-26","value":3839},{"date":"2018-03-04","value":3815},{"date":"2018-03-07","value":3796},{"date":"2018-03-12","value":3919},{"date":"2018-03-17","value":3857},{"date":"2018-03-22","value":3919},{"date":"2018-03-27","value":3857},{"date":"2018-03-30","value":3961},{"date":"2018-04-04","value":3900},{"date":"2018-04-09","value":3961},{"date":"2018-04-14","value":4041},{"date":"2018-04-19","value":3998},{"date":"2018-04-24","value":3980},{"date":"2018-04-28","value":3961},{"date":"2018-04-30","value":3900},{"date":"2018-05-03","value":3961},{"date":"2018-05-06","value":4010}]
},
"encoding":{
"x":{"field":"date","type":"temporal","scale":{"type":"utc","domain":[{"year":2014,"month":12,"date":1,"utc":true},{"year":2018,"month":5,"date":8,"utc":true}]},
"axis":{"format":"%b-%y","values":[{"year":2014,"month":12,"date":1,"utc":true},{"year":2015,"month":6,"date":1,"utc":true},{"year":2015,"month":12,"date":1,"utc":true},{"year":2016,"month":6,"date":1,"utc":true},{"year":2016,"month":12,"date":1,"utc":true},{"year":2017,"month":6,"date":1,"utc":true},{"year":2017,"month":12,"date":1,"utc":true}],"labelPadding":9,"labelFlush":false,"labelOverlap":false}},
"y":{"field":"value","type":"quantitative","scale":{"domain":[2000,5500],"nice":false,"zero":false},"axis":{"values":[2000,2500,3000,3500,4000,4500,5000,5500],"format":"d","labelPadding":12}}
},
"layer":[
{"data":{"name":"a"},"mark":{"type":"line","strokeWidth":3.8,"strokeJoin":"round"},"encoding":{"color":{"datum":"HSBBAC","type":"nominal","scale":{"domain":["HSBBAC","HSCAT100","HSC50 (CNY)","HSI (CNY)"],"range":["#E87D30","#B71C24","#7A7878","#3F5170"]}}}},
{"data":{"name":"b"},"mark":{"type":"line","strokeWidth":3.8,"strokeJoin":"round"},"encoding":{"color":{"datum":"HSCAT100","type":"nominal"}}},
{"data":{"name":"c"},"mark":{"type":"line","strokeWidth":3.8,"strokeJoin":"round"},"encoding":{"color":{"datum":"HSC50 (CNY)","type":"nominal"}}},
{"data":{"name":"d"},"mark":{"type":"line","strokeWidth":3.8,"strokeJoin":"round"},"encoding":{"color":{"datum":"HSI (CNY)","type":"nominal"}}}
]
}
